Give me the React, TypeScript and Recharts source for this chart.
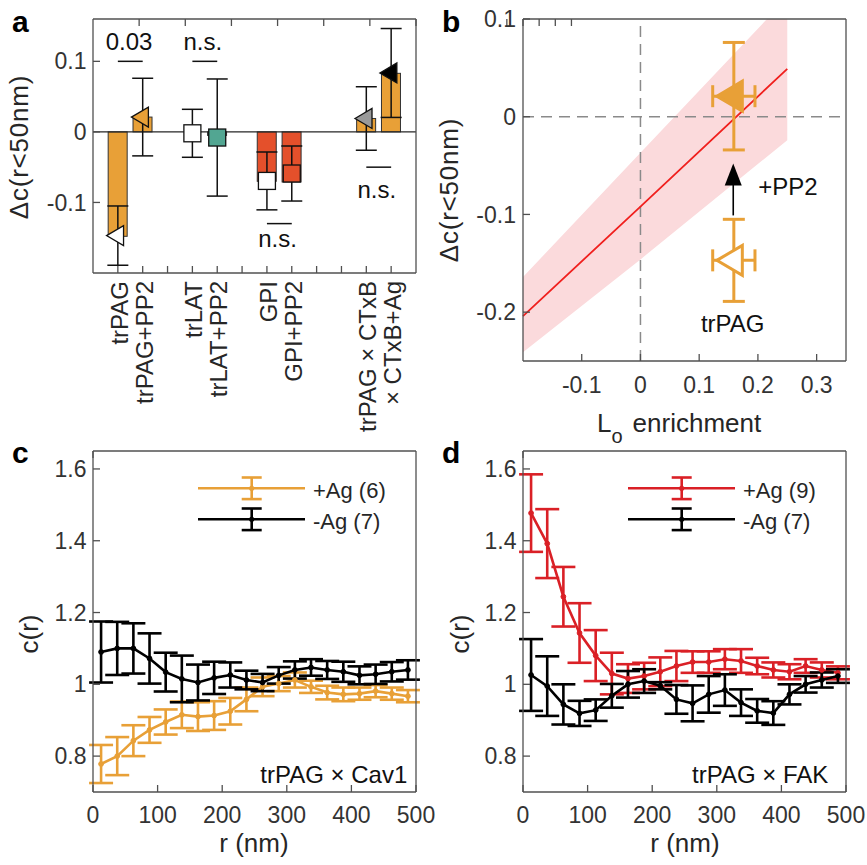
import React from 'react';
import {
  ComposedChart,
  Bar,
  Cell,
  Scatter,
  Line,
  Area,
  XAxis,
  YAxis,
  ErrorBar,
  ReferenceLine,
  Legend,
} from 'recharts';

const FONT = '"Liberation Sans", Arial, Helvetica, sans-serif';
const INK = '#262626';
const FRAME = '#505050';
const ORANGE = '#E8A037';
const VERMILION = '#E4502B';
const TEAL = '#52A692';
const RED = '#DA2026';
const BAND = '#FBDADC';
const FIT = '#F0201E';

// ---- a: Δc(r<50nm) per condition ----
const conditions = ['trPAG', 'trPAG+PP2', 'trLAT', 'trLAT+PP2', 'GPI', 'GPI+PP2', 'trPAG × CTxB', '× CTxB+Ag'];
const conditionSlots = [1, 2, 4, 5, 7, 8, 11, 12];
const slotTicks = [1, 2, 3, 4, 5, 6, 7, 8, 9, 10, 11, 12];
const barHeights = [-0.148, 0.021, 0, -0.005, -0.07, -0.071, 0.019, 0.083];
const means = [-0.147, 0.021, -0.002, -0.008, -0.0695, -0.059, 0.019, 0.0835];
const sems = [0.042, 0.055, 0.034, 0.083, 0.041, 0.039, 0.045, 0.063];
const barFills = [ORANGE, ORANGE, '#ffffff', TEAL, VERMILION, VERMILION, ORANGE, ORANGE];
const markers = ['tri', 'tri', 'square', 'square', 'square', 'square', 'tri', 'tri'];
const markerFills = ['#ffffff', ORANGE, '#ffffff', TEAL, '#ffffff', VERMILION, '#9a9a9a', '#000000'];

// significance brackets
const sigText = ['0.03', 'n.s.', 'n.s.', 'n.s.'];
const sigStart = [1, 4, 7, 11];
const sigEnd = [2, 5, 8, 12];
const sigLevel = [0.1, 0.1, -0.13, -0.05];
const sigTextX = [1.45, 4.42, 7.43, 11.42];
const sigTextY = [0.116, 0.116, -0.1635, -0.094];

// ---- b: Δc vs Lo enrichment ----
const enrichX = [0.159, 0.159];
const enrichDc = [-0.147, 0.021];
const enrichXErr = [0.036, 0.036];
const enrichDcErr = [0.042, 0.055];
const enrichFill = ['#ffffff', ORANGE];
const fitX = [-0.2, 0, 0.25];
const fitY = [-0.204, -0.092, 0.049];
const fitLo = [-0.241, -0.146, -0.024];
const fitHi = [-0.164, -0.037, 0.122];
const arrowX = 0.158;
const arrowFrom = -0.101;
const arrowTo = -0.048;
const bNoteText = ['+PP2', 'trPAG'];
const bNoteX = [0.251, 0.157];
const bNoteY = [-0.0803, -0.2204];

// ---- c, d: pair correlation c(r) ----
const rBins = [12.5, 37.5, 62.5, 87.5, 112.5, 137.5, 162.5, 187.5, 212.5, 237.5, 262.5, 287.5, 312.5, 337.5, 362.5, 387.5, 412.5, 437.5, 462.5, 487.5];

const cav1Plus = [0.778, 0.8, 0.843, 0.873, 0.895, 0.915, 0.91, 0.913, 0.925, 0.958, 0.993, 1.002, 1.012, 0.993, 0.977, 0.972, 0.974, 0.981, 0.974, 0.967];
const cav1PlusErr = [0.053, 0.053, 0.043, 0.036, 0.035, 0.037, 0.04, 0.04, 0.037, 0.033, 0.026, 0.021, 0.021, 0.017, 0.019, 0.019, 0.017, 0.017, 0.017, 0.017];
const cav1Minus = [1.09, 1.1, 1.1, 1.072, 1.034, 1.015, 1.005, 1.018, 1.026, 1.012, 1.005, 1.025, 1.04, 1.047, 1.04, 1.035, 1.025, 1.028, 1.035, 1.04];
const cav1MinusErr = [0.085, 0.074, 0.07, 0.07, 0.054, 0.065, 0.05, 0.045, 0.035, 0.026, 0.024, 0.023, 0.024, 0.023, 0.025, 0.028, 0.025, 0.027, 0.027, 0.027];

const fakPlus = [1.477, 1.392, 1.244, 1.143, 1.08, 1.03, 1.016, 1.023, 1.035, 1.051, 1.062, 1.062, 1.07, 1.065, 1.051, 1.04, 1.035, 1.051, 1.04, 1.032];
const fakPlusErr = [0.108, 0.096, 0.083, 0.083, 0.071, 0.058, 0.04, 0.037, 0.04, 0.042, 0.03, 0.03, 0.028, 0.033, 0.023, 0.021, 0.021, 0.019, 0.021, 0.018];
const fakMinus = [1.026, 0.995, 0.944, 0.919, 0.928, 0.968, 1.0, 1.009, 0.996, 0.958, 0.947, 0.972, 0.984, 0.949, 0.926, 0.92, 0.972, 1.0, 1.012, 1.023];
const fakMinusErr = [0.1, 0.083, 0.056, 0.035, 0.03, 0.033, 0.037, 0.033, 0.01, 0.04, 0.05, 0.051, 0.044, 0.037, 0.033, 0.033, 0.028, 0.023, 0.021, 0.019];

const rTicks = [0, 100, 200, 300, 400, 500];
const cTicks = [0.8, 1, 1.2, 1.4, 1.6];

const frame = { stroke: FRAME, strokeWidth: 1.3 };
const tickFont = { fontSize: 23, fill: '#333', fontFamily: FONT };
const blank = () => '';
const fmt = (v: number) => String(v);
const fmtC = (v: number) => (v === 1 ? '1' : v.toFixed(1));

const BAR_W = 19;

// keep every bar 19px wide, centred on its slot
const fixedBar = (props: any) => {
  const { x, y, width, height, fill } = props;
  if (!height) return <g />;
  const top = Math.min(y, y + height);
  return (
    <rect x={x + width / 2 - BAR_W / 2} y={top} width={BAR_W} height={Math.abs(height)}
      fill={fill} stroke="#333" strokeWidth={1} />
  );
};

const renderConditionTick = (props: any) => {
  const { x, y, payload } = props;
  const i = conditionSlots.indexOf(payload.value);
  if (i < 0) return <g />;
  return (
    <text
      transform={`translate(${x + 10},${y}) rotate(-90)`}
      textAnchor="end"
      fontSize={24}
      fill={INK}
      fontFamily={FONT}
    >
      {conditions[i]}
    </text>
  );
};

const conditionMarker = (props: any) => {
  const { cx, cy, payload } = props;
  if (payload.marker === 'tri') {
    return (
      <path
        d={`M${cx - 11.3},${cy}L${cx + 5.7},${cy - 10}L${cx + 5.7},${cy + 10}Z`}
        fill={payload.markerFill}
        stroke="#111"
        strokeWidth={1.3}
      />
    );
  }
  return <rect x={cx - 8.5} y={cy - 8.5} width={17} height={17} fill={payload.markerFill} stroke="#111" strokeWidth={1.3} />;
};

const enrichMarker = (props: any) => {
  const { cx, cy, payload } = props;
  return (
    <path
      d={`M${cx - 17},${cy}L${cx + 8.5},${cy - 15}L${cx + 8.5},${cy + 15}Z`}
      fill={payload.fill}
      stroke={ORANGE}
      strokeWidth={3}
      strokeLinejoin="miter"
    />
  );
};

const arrowHead = (props: any) => {
  const { cx, cy } = props;
  return <path d={`M${cx},${cy}L${cx + 8.5},${cy + 22}L${cx - 8.5},${cy + 22}Z`} fill="#000" />;
};

const noteText = (props: any) => {
  const { cx, cy, payload } = props;
  return (
    <text x={cx} y={cy} textAnchor={payload.anchor || 'middle'} fontSize={24} fill="#111" fontFamily={FONT}>
      {payload.text}
    </text>
  );
};

const legendBox = (entries: { name: string; color: string }[]) => () => (
  <svg width={230} height={70}>
    {entries.map((e, i) => {
      const cy = 18.3 + i * 31;
      return (
        <g key={e.name}>
          <line x1={8} x2={115} y1={cy} y2={cy} stroke={e.color} strokeWidth={2.6} />
          <line x1={61.7} x2={61.7} y1={cy - 10.8} y2={cy + 10.8} stroke={e.color} strokeWidth={2.6} />
          <line x1={51.7} x2={71.7} y1={cy - 10.8} y2={cy - 10.8} stroke={e.color} strokeWidth={2.6} />
          <line x1={51.7} x2={71.7} y1={cy + 10.8} y2={cy + 10.8} stroke={e.color} strokeWidth={2.6} />
          <circle cx={61.7} cy={cy} r={2.6} fill={e.color} />
          <text x={123} y={cy + 9.7} fontSize={22} fill={INK} fontFamily={FONT}>
            {e.name}
          </text>
        </g>
      );
    })}
  </svg>
);

function PanelA() {
  const rows = conditions.map((name, i) => ({
    x: conditionSlots[i],
    bar: barHeights[i],
    mean: means[i],
    sem: sems[i],
    marker: markers[i],
    markerFill: markerFills[i],
    name,
  }));
  const notes = sigText.map((text, i) => ({ x: sigTextX[i], y: sigTextY[i], text }));
  return (
    <ComposedChart width={430} height={440} data={rows} margin={{ top: 18, right: 13, bottom: 7, left: 33 }}>
      <XAxis dataKey="x" type="number" domain={[0, 13]} ticks={slotTicks} interval={0} height={160}
        tickSize={-7} tickMargin={15} tick={renderConditionTick} axisLine={frame} tickLine={frame} />
      <XAxis xAxisId="top" orientation="top" type="number" domain={[0, 13]} ticks={slotTicks} interval={0}
        height={1} tickSize={-7} tickFormatter={blank} axisLine={frame} tickLine={frame} />
      <YAxis type="number" domain={[-0.2, 0.16]} ticks={[-0.1, 0, 0.1]} interval={0} width={60}
        tickSize={-7} tickMargin={13.5} tickFormatter={fmt} tick={tickFont} axisLine={frame} tickLine={frame} />
      <YAxis yAxisId="right" orientation="right" type="number" domain={[-0.2, 0.16]} ticks={[-0.1, 0, 0.1]}
        interval={0} width={1} tickSize={-7} tickFormatter={blank} axisLine={frame} tickLine={frame} />
      <Bar dataKey="bar" shape={fixedBar} isAnimationActive={false}>
        {rows.map((r, i) => (
          <Cell key={r.name} fill={barFills[i]} />
        ))}
      </Bar>
      <ReferenceLine y={0} stroke={INK} strokeWidth={1.3} />
      {sigText.map((t, i) => (
        <ReferenceLine
          key={`sig-${i}`}
          segment={[
            { x: sigStart[i], y: sigLevel[i] },
            { x: sigEnd[i], y: sigLevel[i] },
          ]}
          stroke="#111"
          strokeWidth={1.5}
        />
      ))}
      <Scatter data={rows} dataKey="mean" shape={conditionMarker} isAnimationActive={false}>
        <ErrorBar dataKey="sem" direction="y" width={10.5} stroke="#111" strokeWidth={1.5} />
      </Scatter>
      <Scatter data={notes} dataKey="y" shape={noteText} isAnimationActive={false} />
    </ComposedChart>
  );
}

function PanelB() {
  const fitRows = fitX.map((x, i) => ({ x, fit: fitY[i], band: [fitLo[i], fitHi[i]] }));
  const points = enrichX.map((x, i) => ({ x, y: enrichDc[i], ex: enrichXErr[i], ey: enrichDcErr[i], fill: enrichFill[i] }));
  const notes = bNoteText.map((text, i) => ({ x: bNoteX[i], y: bNoteY[i], text }));
  const xt = [-0.1, 0, 0.1, 0.2, 0.3];
  const yt = [-0.2, -0.1, 0, 0.1];
  return (
    <ComposedChart width={437} height={440} data={fitRows} margin={{ top: 18, right: 20, bottom: 9, left: 33 }}>
      <XAxis dataKey="x" type="number" domain={[-0.2, 0.35]} ticks={xt} interval={0} height={70}
        tickSize={-7} tickMargin={23} tickFormatter={fmt} tick={tickFont} axisLine={frame} tickLine={frame} />
      <XAxis xAxisId="top" orientation="top" type="number" domain={[-0.2, 0.35]} ticks={xt} interval={0}
        height={1} tickSize={-7} tickFormatter={blank} axisLine={frame} tickLine={frame} />
      <YAxis type="number" domain={[-0.25, 0.1]} allowDataOverflow ticks={yt} interval={0} width={60}
        tickSize={-7} tickMargin={14} tickFormatter={fmt} tick={tickFont} axisLine={frame} tickLine={frame} />
      <YAxis yAxisId="right" orientation="right" type="number" domain={[-0.25, 0.1]} ticks={yt} interval={0}
        width={1} tickSize={-7} tickFormatter={blank} axisLine={frame} tickLine={frame} />
      <Area dataKey="band" type="linear" stroke="none" fill={BAND} fillOpacity={1} isAnimationActive={false} />
      <ReferenceLine x={0} stroke="#8a8a8a" strokeWidth={1.5} strokeDasharray="11 7" />
      <ReferenceLine y={0} stroke="#8a8a8a" strokeWidth={1.5} strokeDasharray="11 7" />
      <Line dataKey="fit" type="linear" stroke={FIT} strokeWidth={1.8} dot={false} isAnimationActive={false} />
      <ReferenceLine
        segment={[
          { x: arrowX, y: arrowFrom },
          { x: arrowX, y: arrowTo - 0.015 },
        ]}
        stroke="#000"
        strokeWidth={1.6}
      />
      <Scatter data={[{ x: arrowX, y: arrowTo }]} dataKey="y" shape={arrowHead} isAnimationActive={false} />
      <Scatter data={points} dataKey="y" shape={enrichMarker} isAnimationActive={false}>
        <ErrorBar dataKey="ex" direction="x" width={11} stroke={ORANGE} strokeWidth={3} />
        <ErrorBar dataKey="ey" direction="y" width={11} stroke={ORANGE} strokeWidth={3} />
      </Scatter>
      <Scatter data={notes} dataKey="y" shape={noteText} isAnimationActive={false} />
    </ComposedChart>
  );
}

type CurveProps = {
  width: number;
  right: number;
  plus: number[];
  plusErr: number[];
  minus: number[];
  minusErr: number[];
  plusColor: string;
  plusName: string;
  minusName: string;
  pair: string;
  pairX: number;
};

function CorrelationPanel(p: CurveProps) {
  const rows = rBins.map((x, i) => ({
    x,
    plus: p.plus[i],
    plusErr: p.plusErr[i],
    minus: p.minus[i],
    minusErr: p.minusErr[i],
  }));
  const note = [{ x: p.pairX, y: 0.724, text: p.pair, anchor: 'end' }];
  const legend = [
    { name: p.plusName, color: p.plusColor },
    { name: p.minusName, color: '#000' },
  ];
  return (
    <ComposedChart width={p.width} height={425} data={rows} margin={{ top: 10, right: p.right, bottom: 8, left: 33 }}>
      <XAxis dataKey="x" type="number" domain={[0, 500]} ticks={rTicks} interval={0} height={65}
        tickSize={-7} tickMargin={22} tickFormatter={fmt} tick={tickFont} axisLine={frame} tickLine={frame} />
      <XAxis xAxisId="top" orientation="top" type="number" domain={[0, 500]} ticks={rTicks} interval={0}
        height={1} tickSize={-7} tickFormatter={blank} axisLine={frame} tickLine={frame} />
      <YAxis type="number" domain={[0.7, 1.65]} ticks={cTicks} interval={0} width={60}
        tickSize={-7} tickMargin={13.5} tickFormatter={fmtC} tick={tickFont} axisLine={frame} tickLine={frame} />
      <YAxis yAxisId="right" orientation="right" type="number" domain={[0.7, 1.65]} ticks={cTicks} interval={0}
        width={1} tickSize={-7} tickFormatter={blank} axisLine={frame} tickLine={frame} />
      <Line dataKey="plus" type="linear" stroke={p.plusColor} strokeWidth={2.6}
        dot={{ r: 2.4, fill: p.plusColor, stroke: p.plusColor, strokeWidth: 1 }} isAnimationActive={false}>
        <ErrorBar dataKey="plusErr" direction="y" width={12} stroke={p.plusColor} strokeWidth={2.6} />
      </Line>
      <Line dataKey="minus" type="linear" stroke="#000" strokeWidth={2.6}
        dot={{ r: 2.4, fill: '#000', stroke: '#000', strokeWidth: 1 }} isAnimationActive={false}>
        <ErrorBar dataKey="minusErr" direction="y" width={12} stroke="#000" strokeWidth={2.6} />
      </Line>
      <Scatter data={note} dataKey="y" shape={noteText} isAnimationActive={false} />
      <Legend layout="vertical" align="center" verticalAlign="middle" content={legendBox(legend)}
        wrapperStyle={{ left: 190, top: 30, width: 230, height: 70 }} />
    </ComposedChart>
  );
}

const titleStyle = { fontSize: 26, fill: INK, fontFamily: FONT };
const letterStyle = { fontSize: 30, fontWeight: 700, fill: '#000', fontFamily: FONT };

export default function App() {
  return (
    <div style={{ position: 'absolute', left: 0, top: 0, width: 867, height: 865, background: '#fff' }}>
      <div style={{ position: 'absolute', left: 0, top: 0 }}>
        <PanelA />
      </div>
      <div style={{ position: 'absolute', left: 430, top: 0 }}>
        <PanelB />
      </div>
      <div style={{ position: 'absolute', left: 0, top: 440 }}>
        <CorrelationPanel width={445} right={28} plus={cav1Plus} plusErr={cav1PlusErr} minus={cav1Minus}
          minusErr={cav1MinusErr} plusColor={ORANGE} plusName="+Ag (6)" minusName="-Ag (7)"
          pair="trPAG × Cav1" pairX={486.5} />
      </div>
      <div style={{ position: 'absolute', left: 430, top: 440 }}>
        <CorrelationPanel width={437} right={20} plus={fakPlus} plusErr={fakPlusErr} minus={fakMinus}
          minusErr={fakMinusErr} plusColor={RED} plusName="+Ag (9)" minusName="-Ag (7)"
          pair="trPAG × FAK" pairX={472.6} />
      </div>
      <svg width={867} height={865} style={{ position: 'absolute', left: 0, top: 0, pointerEvents: 'none' }}>
        <text x={12} y={32} {...letterStyle}>a</text>
        <text x={442} y={32} {...letterStyle}>b</text>
        <text x={12} y={463} {...letterStyle}>c</text>
        <text x={442} y={463} {...letterStyle}>d</text>

        <text transform="translate(28,147) rotate(-90)" textAnchor="middle" letterSpacing={0.8} {...titleStyle}>Δc(r&lt;50nm)</text>
        <text transform="translate(458,190) rotate(-90)" textAnchor="middle" letterSpacing={0.8} {...titleStyle}>Δc(r&lt;50nm)</text>
        <text transform="translate(38,634) rotate(-90)" textAnchor="middle" {...titleStyle}>c(r)</text>
        <text transform="translate(469,634) rotate(-90)" textAnchor="middle" {...titleStyle}>c(r)</text>

        <text x={597} y={431.7} {...titleStyle}>
          L<tspan dy={11} fontSize={20}>o</tspan>
          <tspan dy={-11} dx={10}>enrichment</tspan>
        </text>
        <text x={254} y={851.5} textAnchor="middle" {...titleStyle}>r (nm)</text>
        <text x={685} y={851.5} textAnchor="middle" {...titleStyle}>r (nm)</text>
      </svg>
    </div>
  );
}
